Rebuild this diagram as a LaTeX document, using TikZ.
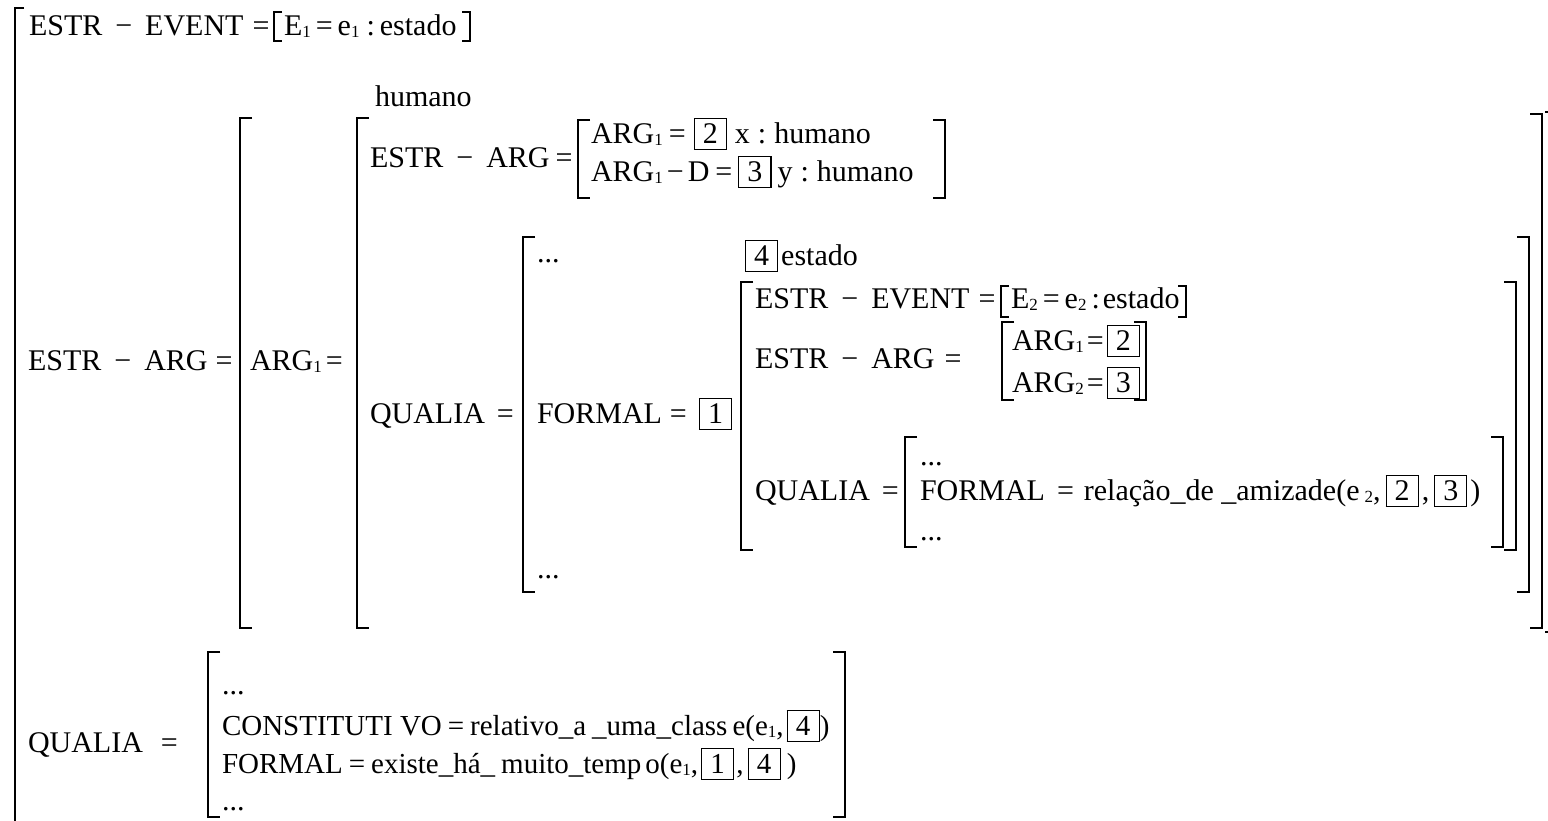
\documentclass[tikz,border=0pt]{standalone}
\usepackage{fontspec}
\setmainfont{Liberation Serif}
\newcommand{\sbs}[1]{\raisebox{-2pt}{\fontsize{17}{17}\selectfont #1}}
\newcommand{\bx}[1]{{\setlength{\fboxsep}{0pt}\setlength{\fboxrule}{1.1pt}\fbox{\rule[-6pt]{0pt}{30pt}\makebox[31pt]{#1}}}}
\newcommand{\mn}{\hspace{13pt}−\hspace{13pt}}
\newcommand{\Lbrk}[3]{\draw[brk] ({#1+12},#2) -- (#1,#2) -- (#1,#3) -- ({#1+12},#3);}
\newcommand{\Rbrk}[3]{\draw[brk] ({#1-12},#2) -- (#1,#2) -- (#1,#3) -- ({#1-12},#3);}
\begin{document}
\begin{tikzpicture}[x=1pt,y=-1pt,
  t/.style={anchor=base west,inner sep=0pt,outer sep=0pt,font=\fontsize{30}{36}\selectfont},
  ts/.style={t,font=\fontsize{29}{34}\selectfont},
  brk/.style={line width=1.4pt}]
\fill[white] (0,0) rectangle (1548,820);
\useasboundingbox (0,0) rectangle (1548,820);

% outer bracket
\draw[line width=1.2pt] (24,8) -- (15,8) -- (15,822);

% row 1
\node[t] (r1) at (29,35) {ESTR\mn EVENT\hspace{9pt}=};
\node[t] (e1) at (284,35) {E\sbs{1}\hspace{5pt}=\hspace{5pt}e\sbs{1}\hspace{7pt}:\hspace{5pt}estado};
\draw[brk] (282,12) -- (274,12) -- (274,41) -- (282,41);
\draw[brk] (462,12) -- (470,12) -- (470,41) -- (462,41);

\node[t] (hum) at (375,106) {humano};

% big ARG brackets
\Lbrk{240}{118}{628}
\Lbrk{357}{118}{628}
\Rbrk{1542}{114}{628}
\draw[brk] (1545,112) -- (1548,112);
\draw[brk] (1545,632) -- (1548,632);

\node[t] (ea0) at (28,370) {ESTR\mn ARG\hspace{8pt}=};
\node[t] (a1) at (250,370) {ARG\sbs{1}\hspace{4pt}=};

% inner ESTR-ARG
\node[t] (ea1) at (370,167) {ESTR\mn ARG\hspace{6pt}=};
\Lbrk{578}{120}{198}
\Rbrk{945}{120}{198}
\node[t] (ra) at (591,143) {ARG\sbs{1}\hspace{6pt}=\hspace{8pt}\bx{2}\hspace{8pt}x\hspace{8pt}:\hspace{8pt}humano};
\node[t] (rb) at (591,181) {ARG\sbs{1}\hspace{4pt}−\hspace{4pt}D\hspace{6pt}=\hspace{6pt}\bx{3}\hspace{6pt}y\hspace{8pt}:\hspace{8pt}humano};

% QUALIA of ARG1
\node[t] (q1) at (370,423) {QUALIA\hspace{12pt}=};
\Lbrk{523}{237}{592}
\Rbrk{1529}{237}{592}
\node[t] (d1) at (537,262) {...};
\node[t] (f1) at (537,423) {FORMAL\hspace{8pt}=\hspace{12pt}\bx{1}};
\node[t] (d2) at (537,578) {...};

% FORMAL value
\node[t] (est4) at (745,265) {\bx{4}\hspace{3pt}estado};
\Lbrk{741}{282}{550}
\Rbrk{1516}{282}{550}
\node[t] (ee2) at (755,308) {ESTR\mn EVENT\hspace{9pt}=};
\node[t] (e2) at (1011,308) {E\sbs{2}\hspace{5pt}=\hspace{5pt}e\sbs{2}\hspace{5pt}:\hspace{3pt}estado};
\draw[brk] (1009,286) -- (1001,286) -- (1001,317) -- (1009,317);
\draw[brk] (1178,286) -- (1186,286) -- (1186,317) -- (1178,317);

\node[t] (ea2) at (755,368) {ESTR\mn ARG\hspace{10pt}=};
\Lbrk{1002}{322}{400}
\Rbrk{1146}{322}{400}
\node[t] (g1) at (1012,350) {ARG\sbs{1}\hspace{3pt}=\hspace{3pt}\bx{2}};
\node[t] (g2) at (1012,392) {ARG\sbs{2}\hspace{3pt}=\hspace{3pt}\bx{3}};

\node[t] (q2) at (755,500) {QUALIA\hspace{12pt}=};
\Lbrk{905}{437}{547}
\Rbrk{1503}{437}{547}
\node[t] (d3) at (920,465) {...};
\node[t] (f2) at (920,500) {FORMAL\hspace{12pt}=\hspace{10pt}relação\_de \_amizade(e\,\sbs{2},\hspace{5pt}\bx{2}\hspace{3pt},\hspace{5pt}\bx{3}\hspace{3pt})};
\node[t] (d4) at (920,540) {...};

% bottom QUALIA
\node[t] (q3) at (28,752) {QUALIA\hspace{18pt}=};
\Lbrk{208}{652}{817}
\Rbrk{845}{652}{817}
\node[t] (d5) at (222,694) {...};
\node[ts] (c1) at (222,735) {CONSTITUTI VO\hspace{6pt}=\hspace{6pt}relativo\_a\hspace{6pt}\_uma\_class\hspace{5pt}e(e\sbs{1},\hspace{3pt}\bx{4})};
\node[ts] (c2) at (222,773) {FORMAL\hspace{6pt}=\hspace{6pt}existe\_há\_\hspace{6pt}muito\_temp\hspace{4pt}o(e\sbs{1},\hspace{3pt}\bx{1}\hspace{2pt},\hspace{4pt}\bx{4}\hspace{6pt})};
\node[t] (d6) at (222,810) {...};
\end{tikzpicture}
\end{document}
